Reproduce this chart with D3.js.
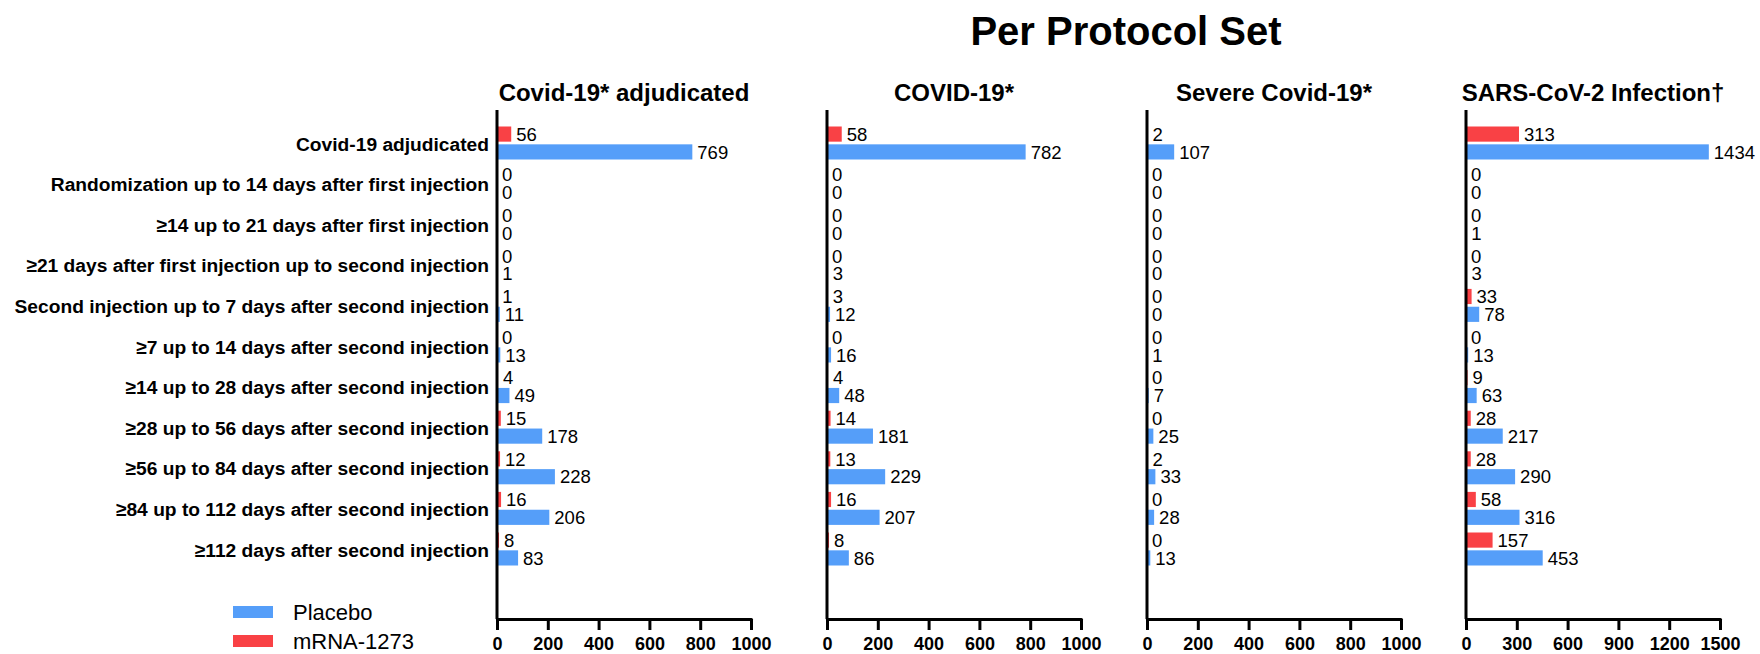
<!DOCTYPE html>
<html>
<head>
<meta charset="utf-8">
<script src="https://cdn.jsdelivr.net/npm/d3@7"></script>
<style>
  body { margin: 0; background: #fff; }
  text { font-family: "Liberation Sans", Arial, sans-serif; }
</style>
</head>
<body>
<div id="chart"></div>
<script>
var categories = [
  "Covid-19 adjudicated",
  "Randomization up to 14 days after first injection",
  "≥14 up to 21 days after first injection",
  "≥21 days after first injection up to second injection",
  "Second injection up to 7 days after second injection",
  "≥7 up to 14 days after second injection",
  "≥14 up to 28 days after second injection",
  "≥28 up to 56 days after second injection",
  "≥56 up to 84 days after second injection",
  "≥84 up to 112 days after second injection",
  "≥112 days after second injection"
];
var panelTitles = ["Covid-19* adjudicated", "COVID-19*", "Severe Covid-19*", "SARS-CoV-2 Infection†"];
var seriesNames = ["mRNA-1273", "Placebo"];

var adjMrna    = [56, 0, 0, 0, 1, 0, 4, 15, 12, 16, 8];
var adjPlacebo = [769, 0, 0, 1, 11, 13, 49, 178, 228, 206, 83];
var covMrna    = [58, 0, 0, 0, 3, 0, 4, 14, 13, 16, 8];
var covPlacebo = [782, 0, 0, 3, 12, 16, 48, 181, 229, 207, 86];
var sevMrna    = [2, 0, 0, 0, 0, 0, 0, 0, 2, 0, 0];
var sevPlacebo = [107, 0, 0, 0, 0, 1, 7, 25, 33, 28, 13];
var infMrna    = [313, 0, 0, 0, 33, 0, 9, 28, 28, 58, 157];
var infPlacebo = [1434, 0, 1, 3, 78, 13, 63, 217, 290, 316, 453];

var ticks1000 = [0, 200, 400, 600, 800, 1000];
var ticks1500 = [0, 300, 600, 900, 1200, 1500];

var panels = [
  {title: panelTitles[0], mrna: adjMrna, placebo: adjPlacebo, ticks: ticks1000},
  {title: panelTitles[1], mrna: covMrna, placebo: covPlacebo, ticks: ticks1000},
  {title: panelTitles[2], mrna: sevMrna, placebo: sevPlacebo, ticks: ticks1000},
  {title: panelTitles[3], mrna: infMrna, placebo: infPlacebo, ticks: ticks1500}
];

var colors = {"mRNA-1273": "#f94145", "Placebo": "#559ef9"};

var width = 1760, height = 654;
var panelLeft = [497, 827, 1147, 1466],
    panelWidth = 254,
    axisTop = 110,
    axisY = 619;

var svg = d3.select("#chart").append("svg")
  .attr("width", width)
  .attr("height", height);

svg.append("text")
  .attr("x", 1126).attr("y", 45)
  .attr("text-anchor", "middle")
  .style("font-size", "40px").style("font-weight", "bold")
  .text("Per Protocol Set");

var y = d3.scaleBand()
  .domain(categories)
  .range([122.7, 569.3]);

var ySub = d3.scaleBand()
  .domain(seriesNames)
  .range([-16.5, 16.5])
  .paddingInner(0.15);

for (let p = 0; p < panels.length; p++) {
  let pan = panels[p];
  let x = d3.scaleLinear()
    .domain([0, d3.max(pan.ticks)])
    .range([0, panelWidth]);

  let g = svg.append("g").attr("transform", "translate(" + panelLeft[p] + ",0)");

  g.append("text")
    .attr("x", panelWidth / 2).attr("y", 101)
    .attr("text-anchor", "middle")
    .style("font-size", "24px").style("font-weight", "bold")
    .text(pan.title);

  let rows = [];
  for (let i = 0; i < categories.length; i++) {
    rows.push({cat: categories[i], s: "mRNA-1273", v: pan.mrna[i]});
    rows.push({cat: categories[i], s: "Placebo", v: pan.placebo[i]});
  }

  g.selectAll("rect.bar").data(rows).enter().append("rect")
    .attr("class", "bar")
    .attr("x", x(0))
    .attr("y", d => y(d.cat) + y.bandwidth() / 2 + ySub(d.s))
    .attr("width", d => x(d.v) - x(0))
    .attr("height", ySub.bandwidth())
    .attr("fill", d => colors[d.s]);

  g.selectAll("text.val").data(rows).enter().append("text")
    .attr("class", "val")
    .attr("x", d => x(d.v) + 5)
    .attr("y", d => y(d.cat) + y.bandwidth() / 2 + ySub(d.s) + ySub.bandwidth() / 2)
    .attr("dy", "0.36em")
    .style("font-size", "18.5px")
    .text(d => d.v);

  // vertical axis line
  g.append("line")
    .attr("x1", 0).attr("x2", 0)
    .attr("y1", axisTop).attr("y2", axisY)
    .attr("stroke", "#000").attr("stroke-width", 3);

  let xAxis = d3.axisBottom(x)
    .tickValues(pan.ticks)
    .tickFormat(d3.format("d"))
    .tickSize(11)
    .tickSizeOuter(0)
    .tickPadding(7);

  let ax = g.append("g")
    .attr("transform", "translate(0," + axisY + ")")
    .call(xAxis);
  ax.select(".domain").attr("stroke-width", 3).attr("stroke-linecap", "round");
  ax.selectAll(".tick line").attr("stroke-width", 3);
  ax.selectAll(".tick text")
    .style("font-size", "18px").style("font-weight", "bold")
    .style("font-family", "'Liberation Sans', Arial, sans-serif")
    .attr("fill", "#000");

  if (p == 0) {
    let yAxis = d3.axisLeft(y).tickSize(0).tickPadding(8);
    let ay = g.append("g").call(yAxis);
    ay.select(".domain").remove();
    ay.selectAll(".tick text")
      .attr("dy", "0.4em")
      .style("font-size", "19.2px").style("font-weight", "bold")
      .style("font-family", "'Liberation Sans', Arial, sans-serif")
      .attr("fill", "#000");
  }
}

// legend
var legendItems = ["Placebo", "mRNA-1273"];
var lg = svg.append("g");
legendItems.forEach(function(name, i) {
  lg.append("rect")
    .attr("x", 233).attr("y", 606 + i * 29)
    .attr("width", 40).attr("height", 12)
    .attr("fill", colors[name]);
  lg.append("text")
    .attr("x", 293).attr("y", 612 + i * 29)
    .attr("dy", "0.36em")
    .style("font-size", "22px")
    .text(name);
});
</script>
</body>
</html>
